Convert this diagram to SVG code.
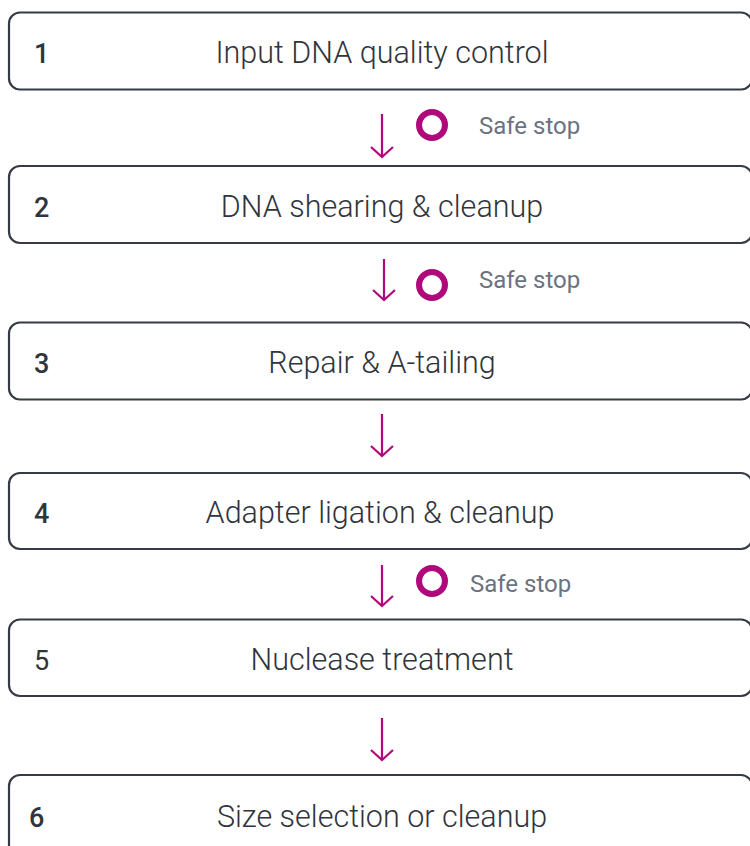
<svg xmlns="http://www.w3.org/2000/svg" width="750" height="846" viewBox="0 0 750 846">
  <defs>
    <style>
      .box { fill: #ffffff; stroke: #363a44; stroke-width: 2.2; }
      .num { font-family: Roboto, "Liberation Sans", sans-serif; font-size: 27px; font-weight: 500; fill: #30343d; }
      .label { font-family: Roboto, "Liberation Sans", sans-serif; font-size: 30.5px; font-weight: 300; fill: #30343d; text-anchor: middle; }
      .arrow { stroke: #b0097b; stroke-width: 2.2; fill: none; }
      .stop { fill: none; stroke: #b0097b; stroke-width: 6; }
      .stoptext { font-family: Roboto, "Liberation Sans", sans-serif; font-size: 24px; fill: #6b7280; }
    </style>
    <!-- open chevron head, drawn pointing along +x so orient="auto" turns it with the line -->
    <marker id="head" viewBox="0 0 20 24" refX="18" refY="12" markerWidth="20" markerHeight="24" markerUnits="userSpaceOnUse" orient="auto">
      <path d="M8,1 L18,12 L8,23" fill="none" stroke="#b0097b" stroke-width="2.2"/>
    </marker>
  </defs>
  <rect width="750" height="846" fill="#ffffff"/>

  <g id="step1">
    <rect class="box" x="9" y="12.5" width="743" height="77" rx="11"/>
    <text class="num" x="34" y="63">1</text>
    <text class="label" x="382" y="63">Input DNA quality control</text>
  </g>
  <g id="step2">
    <rect class="box" x="9" y="166" width="743" height="77" rx="11"/>
    <text class="num" x="34" y="217">2</text>
    <text class="label" x="382" y="217">DNA shearing &amp; cleanup</text>
  </g>
  <g id="step3">
    <rect class="box" x="9" y="322.5" width="743" height="77" rx="11"/>
    <text class="num" x="34" y="373">3</text>
    <text class="label" x="382" y="373">Repair &amp; A-tailing</text>
  </g>
  <g id="step4">
    <rect class="box" x="9" y="473" width="743" height="76" rx="11"/>
    <text class="num" x="34" y="523">4</text>
    <text class="label" x="380" y="523">Adapter ligation &amp; cleanup</text>
  </g>
  <g id="step5">
    <rect class="box" x="9" y="619.5" width="743" height="76.5" rx="11"/>
    <text class="num" x="34" y="670" style="font-weight:400">5</text>
    <text class="label" x="382" y="670">Nuclease treatment</text>
  </g>
  <g id="step6">
    <rect class="box" x="9" y="775" width="743" height="90" rx="11"/>
    <text class="num" x="29" y="827">6</text>
    <text class="label" x="382" y="827">Size selection or cleanup</text>
  </g>

  <g id="connectors">
    <line class="arrow" x1="382" y1="114" x2="382" y2="157" marker-end="url(#head)"/>
    <line class="arrow" x1="384" y1="259" x2="384" y2="300" marker-end="url(#head)"/>
    <line class="arrow" x1="382" y1="414" x2="382" y2="456" marker-end="url(#head)"/>
    <line class="arrow" x1="382" y1="565" x2="382" y2="606" marker-end="url(#head)"/>
    <line class="arrow" x1="382" y1="718" x2="382" y2="760" marker-end="url(#head)"/>
  </g>

  <g id="safe-stop-1">
    <circle class="stop" cx="432" cy="125" r="13"/>
    <text class="stoptext" x="479" y="134">Safe stop</text>
  </g>
  <g id="safe-stop-2">
    <circle class="stop" cx="432" cy="285" r="13"/>
    <text class="stoptext" x="479" y="288">Safe stop</text>
  </g>
  <g id="safe-stop-4">
    <circle class="stop" cx="432" cy="581" r="13"/>
    <text class="stoptext" x="470" y="592">Safe stop</text>
  </g>
</svg>
